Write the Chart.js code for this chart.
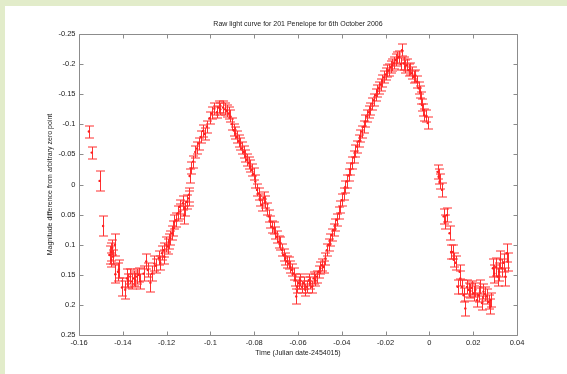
<!DOCTYPE html>
<html>
<head>
<meta charset="utf-8">
<script src="https://cdn.jsdelivr.net/npm/chart.js@4.4.1/dist/chart.umd.min.js"></script>
<style>
  html, body { margin: 0; padding: 0; }
  body { width: 567px; height: 374px; background: #e2ecca; position: relative; overflow: hidden; }
  #wrap { position: absolute; left: 5px; top: 6px; width: 562px; height: 368px; background: #ffffff; }
  canvas { display: block; }
</style>
</head>
<body>
<div id="wrap"><canvas id="c" width="562" height="368"></canvas></div>
<script>
// ---- data ----
const chartTitle = 'Raw light curve for 201 Penelope for 6th October 2006';
const xAxisLabel = 'Time (Julian date-2454015)';
const yAxisLabel = 'Magnitude difference from arbitrary zero point';

const xTickValues = [-0.16, -0.14, -0.12, -0.1, -0.08, -0.06, -0.04, -0.02, 0, 0.02, 0.04];
const xTickLabels = ['-0.16', '-0.14', '-0.12', '-0.1', '-0.08', '-0.06', '-0.04', '-0.02', '0', '0.02', '0.04'];
const yTickValues = [-0.25, -0.2, -0.15, -0.1, -0.05, 0, 0.05, 0.1, 0.15, 0.2, 0.25];
const yTickLabels = ['-0.25', '-0.2', '-0.15', '-0.1', '-0.05', '0', '0.05', '0.1', '0.15', '0.2', '0.25'];

// time (JD - 2454015)
const time = [
  -0.1555, -0.1542, -0.1506, -0.1490,
  -0.1460, -0.1455, -0.1452, -0.1448, -0.1444, -0.1436, -0.1434, -0.1422, -0.1418, -0.1404,
  -0.1389, -0.1381, -0.1375, -0.1366, -0.1358, -0.1351, -0.1343, -0.1336, -0.1328, -0.1320,
  -0.1305, -0.1293, -0.1286, -0.1274, -0.1267, -0.1256, -0.1248, -0.1236, -0.1229, -0.1221,
  -0.1213, -0.1210, -0.1201, -0.1195, -0.1190, -0.1183, -0.1175, -0.1171, -0.1165, -0.1156,
  -0.1150, -0.1141, -0.1137, -0.1125, -0.1119, -0.1116, -0.1107, -0.1100, -0.1098,
  -0.1095, -0.1087, -0.1079, -0.1069, -0.1061, -0.1054, -0.1043, -0.1034, -0.1026, -0.1016,
  -0.1004, -0.0993, -0.0982, -0.0970, -0.0963, -0.0955, -0.0942, -0.0932, -0.0924, -0.0916,
  -0.0909, -0.0901, -0.0894, -0.0886, -0.0879, -0.0871, -0.0863, -0.0856, -0.0848, -0.0840,
  -0.0833, -0.0825, -0.0818, -0.0810, -0.0803, -0.0795, -0.0787, -0.0780, -0.0772, -0.0764,
  -0.0757, -0.0749, -0.0742, -0.0734, -0.0726, -0.0719, -0.0711, -0.0704, -0.0696, -0.0689,
  -0.0681, -0.0673, -0.0666, -0.0658, -0.0650, -0.0643, -0.0635, -0.0627, -0.0620, -0.0612,
  -0.0608, -0.0605, -0.0597, -0.0590, -0.0582, -0.0574, -0.0567, -0.0559, -0.0551, -0.0544,
  -0.0536, -0.0529, -0.0521, -0.0513, -0.0506, -0.0498, -0.0490, -0.0483, -0.0475, -0.0468,
  -0.0460, -0.0452, -0.0445, -0.0437, -0.0430, -0.0422, -0.0414, -0.0407, -0.0399, -0.0392,
  -0.0384, -0.0376, -0.0368, -0.0361, -0.0353, -0.0345, -0.0338, -0.0330, -0.0322, -0.0315,
  -0.0307, -0.0299, -0.0292, -0.0284, -0.0276, -0.0269, -0.0261, -0.0253, -0.0246, -0.0238,
  -0.0230, -0.0223, -0.0215, -0.0207, -0.0200, -0.0192, -0.0184, -0.0177, -0.0169, -0.0161,
  -0.0154, -0.0146, -0.0138, -0.0131, -0.0125, -0.0118, -0.0110, -0.0102, -0.0095, -0.0087,
  -0.0080, -0.0072, -0.0064, -0.0057, -0.0049, -0.0042, -0.0038, -0.0034, -0.0027, -0.0023,
  -0.0014, -0.0008,
  0.0037, 0.0042, 0.0047, 0.0058, 0.0065, 0.0073, 0.0080, 0.0092, 0.0099, 0.0108,
  0.0111, 0.0120, 0.0129, 0.0138, 0.0141, 0.0149, 0.0156, 0.0164, 0.0172, 0.0179,
  0.0187, 0.0195, 0.0202, 0.0210, 0.0217, 0.0225, 0.0232, 0.0240, 0.0247, 0.0255,
  0.0263, 0.0270, 0.0278, 0.0281, 0.0290, 0.0296, 0.0305, 0.0311, 0.0318, 0.0324,
  0.0332, 0.0339, 0.0347, 0.0354, 0.0357
];

// magnitude difference
const mag = [
  -0.088, -0.053, -0.006, 0.069,
  0.117, 0.112, 0.125, 0.105, 0.120, 0.100, 0.149, 0.145, 0.141, 0.171,
  0.175, 0.156, 0.160, 0.153, 0.161, 0.156, 0.159, 0.153, 0.150, 0.161,
  0.148, 0.128, 0.142, 0.163, 0.148, 0.131, 0.135, 0.122, 0.130, 0.114,
  0.109, 0.120, 0.100, 0.103, 0.095, 0.089, 0.081, 0.073, 0.062, 0.059,
  0.048, 0.037, 0.045, 0.031, 0.051, 0.040, 0.029, 0.023, 0.017,
  -0.014, -0.027, -0.038, -0.054, -0.060, -0.068, -0.079, -0.089, -0.084, -0.096,
  -0.110, -0.118, -0.126, -0.120, -0.128, -0.125, -0.128, -0.125, -0.122, -0.118,
  -0.113, -0.100, -0.090, -0.085, -0.079, -0.072, -0.068, -0.060, -0.054, -0.047,
  -0.041, -0.036, -0.030, -0.024, -0.017, -0.005, 0.009, 0.015, 0.026, 0.034,
  0.022, 0.029, 0.040, 0.053, 0.062, 0.070, 0.073, 0.081, 0.087, 0.095,
  0.098, 0.109, 0.117, 0.123, 0.128, 0.131, 0.137, 0.142, 0.148, 0.159,
  0.186, 0.170, 0.164, 0.159, 0.170, 0.164, 0.175, 0.170, 0.159, 0.164,
  0.170, 0.156, 0.159, 0.153, 0.145, 0.139, 0.134, 0.137, 0.123, 0.109,
  0.100, 0.092, 0.084, 0.076, 0.067, 0.059, 0.048, 0.037, 0.026, 0.015,
  0.004, -0.005, -0.015, -0.025, -0.035, -0.045, -0.055, -0.063, -0.072, -0.080,
  -0.088, -0.096, -0.105, -0.113, -0.120, -0.126, -0.134, -0.140, -0.148, -0.155,
  -0.160, -0.166, -0.172, -0.178, -0.183, -0.188, -0.190, -0.195, -0.198, -0.202,
  -0.207, -0.210, -0.212, -0.200, -0.223, -0.201, -0.196, -0.198, -0.190, -0.192,
  -0.185, -0.179, -0.181, -0.171, -0.160, -0.154, -0.143, -0.132, -0.124, -0.115,
  -0.113, -0.102,
  -0.021, -0.013, -0.005, 0.009, 0.053, 0.062, 0.051, 0.081, 0.112, 0.112,
  0.125, 0.130, 0.170, 0.145, 0.156, 0.170, 0.184, 0.206, 0.170, 0.175,
  0.177, 0.172, 0.181, 0.175, 0.192, 0.184, 0.170, 0.197, 0.178, 0.182,
  0.186, 0.195, 0.203, 0.192, 0.139, 0.148, 0.137, 0.153, 0.145, 0.125,
  0.139, 0.130, 0.153, 0.114, 0.128
];

// error (half-length of each error bar)
const err = [
  0.010, 0.010, 0.017, 0.017,
  0.015, 0.015, 0.012, 0.012, 0.012, 0.018, 0.015, 0.015, 0.015, 0.015,
  0.015, 0.015, 0.012, 0.012, 0.012, 0.012, 0.012, 0.012, 0.012, 0.012,
  0.012, 0.012, 0.012, 0.015, 0.012, 0.012, 0.012, 0.012, 0.012, 0.012,
  0.012, 0.012, 0.012, 0.012, 0.012, 0.012, 0.012, 0.012, 0.012, 0.012,
  0.012, 0.012, 0.012, 0.012, 0.015, 0.012, 0.012, 0.012, 0.012,
  0.012, 0.010, 0.010, 0.010, 0.010, 0.010, 0.010, 0.010, 0.010, 0.010,
  0.010, 0.010, 0.010, 0.010, 0.010, 0.010, 0.010, 0.010, 0.010, 0.010,
  0.010, 0.010, 0.010, 0.010, 0.010, 0.010, 0.010, 0.010, 0.010, 0.010,
  0.010, 0.010, 0.010, 0.010, 0.010, 0.010, 0.010, 0.010, 0.010, 0.010,
  0.010, 0.010, 0.010, 0.010, 0.010, 0.010, 0.010, 0.010, 0.010, 0.010,
  0.010, 0.010, 0.010, 0.010, 0.010, 0.010, 0.010, 0.010, 0.010, 0.010,
  0.012, 0.010, 0.010, 0.010, 0.010, 0.010, 0.010, 0.010, 0.010, 0.010,
  0.010, 0.010, 0.010, 0.010, 0.010, 0.010, 0.010, 0.010, 0.010, 0.010,
  0.010, 0.010, 0.010, 0.010, 0.010, 0.010, 0.010, 0.010, 0.010, 0.010,
  0.010, 0.010, 0.010, 0.010, 0.010, 0.010, 0.010, 0.010, 0.010, 0.010,
  0.010, 0.010, 0.010, 0.010, 0.010, 0.010, 0.010, 0.010, 0.010, 0.010,
  0.010, 0.010, 0.010, 0.010, 0.010, 0.010, 0.010, 0.010, 0.010, 0.010,
  0.010, 0.010, 0.010, 0.010, 0.010, 0.010, 0.010, 0.010, 0.010, 0.010,
  0.010, 0.010, 0.010, 0.010, 0.010, 0.010, 0.010, 0.010, 0.010, 0.010,
  0.010, 0.010,
  0.012, 0.012, 0.012, 0.012, 0.012, 0.012, 0.012, 0.012, 0.012, 0.012,
  0.012, 0.012, 0.012, 0.012, 0.012, 0.012, 0.012, 0.012, 0.012, 0.012,
  0.012, 0.012, 0.012, 0.012, 0.012, 0.012, 0.012, 0.012, 0.012, 0.012,
  0.012, 0.012, 0.012, 0.012, 0.015, 0.015, 0.015, 0.015, 0.015, 0.015,
  0.015, 0.015, 0.015, 0.015, 0.015
];

// ---- styles ----
const RED = '#ff2020';
const BAR_RED = '#ff3030';
const FRAME = '#8c8c8c';
const FONT = "'Liberation Sans', Arial, Helvetica, sans-serif";

// error bars drawn through the chart's scales (soft, anti-aliased strokes like the blurred original)
const errorBars = {
  id: 'errorBars',
  beforeDatasetsDraw(chart) {
    const { ctx, scales: { x, y } } = chart;
    ctx.save();
    ctx.strokeStyle = BAR_RED;
    ctx.lineWidth = 1;
    const cap = 4.5;
    for (let i = 0; i < time.length; i++) {
      const px = x.getPixelForValue(time[i]);
      const y1 = y.getPixelForValue(mag[i] - err[i]);
      const y2 = y.getPixelForValue(mag[i] + err[i]);
      const xx = Math.round(px) + 0.5;
      const a = Math.round(y1), b = Math.round(y2);
      ctx.beginPath();
      ctx.moveTo(xx, a); ctx.lineTo(xx, b);
      ctx.moveTo(xx - cap, a); ctx.lineTo(xx + cap, a);
      ctx.moveTo(xx - cap, b); ctx.lineTo(xx + cap, b);
      ctx.stroke();
    }
    ctx.restore();
  }
};

// MATLAB-style box with inward ticks on all four sides
const axisBox = {
  id: 'axisBox',
  afterDraw(chart) {
    const { ctx, chartArea: { left, right, top, bottom }, scales: { x, y } } = chart;
    const L = Math.round(left) + 0.5, R = Math.round(right) + 0.5;
    const T = Math.round(top) + 0.5, B = Math.round(bottom) + 0.5;
    const tl = 4;
    ctx.save();
    ctx.strokeStyle = FRAME;
    ctx.lineWidth = 1;
    ctx.beginPath();
    ctx.rect(L, T, R - L, B - T);
    x.ticks.forEach(t => {
      const px = Math.round(x.getPixelForValue(t.value)) + 0.5;
      ctx.moveTo(px, B); ctx.lineTo(px, B - tl);
      ctx.moveTo(px, T); ctx.lineTo(px, T + tl);
    });
    y.ticks.forEach(t => {
      const py = Math.round(y.getPixelForValue(t.value)) + 0.5;
      ctx.moveTo(L, py); ctx.lineTo(L + tl, py);
      ctx.moveTo(R, py); ctx.lineTo(R - tl, py);
    });
    ctx.stroke();
    ctx.restore();
  }
};

new Chart(document.getElementById('c'), {
  type: 'scatter',
  data: {
    datasets: [{
      data: time.map((t, i) => ({ x: t, y: mag[i] })),
      backgroundColor: RED,
      borderColor: RED,
      pointRadius: 1.2,
      pointBorderWidth: 0,
      pointHoverRadius: 1.2
    }]
  },
  options: {
    responsive: false,
    animation: false,
    events: [],
    layout: { padding: { left: 0, right: 50, top: 0, bottom: 0 } },
    plugins: {
      legend: { display: false },
      tooltip: { enabled: false },
      title: {
        display: true,
        text: chartTitle,
        fullSize: false,
        color: '#222',
        font: { family: FONT, size: 7, weight: 'normal', lineHeight: 1.2 },
        padding: { top: 13.6, bottom: 6 }
      }
    },
    scales: {
      x: {
        type: 'linear',
        min: -0.16, max: 0.04,
        afterBuildTicks: s => { s.ticks = xTickValues.map(v => ({ value: v })); },
        afterFit: s => { s.height = 39; },
        grid: { display: false, drawTicks: false },
        border: { display: false },
        ticks: {
          padding: 3,
          color: '#222',
          font: { family: FONT, size: 7.5 },
          maxRotation: 0,
          autoSkip: false,
          callback: (v, i) => xTickLabels[i]
        },
        title: {
          display: true,
          text: xAxisLabel,
          color: '#222',
          font: { family: FONT, size: 7, lineHeight: 1.2 },
          padding: { top: 0, bottom: 16.5 }
        }
      },
      y: {
        type: 'linear',
        reverse: true,
        min: -0.25, max: 0.25,
        afterBuildTicks: s => { s.ticks = yTickValues.map(v => ({ value: v })); },
        afterFit: s => { s.width = 74; },
        grid: { display: false, drawTicks: false },
        border: { display: false },
        ticks: {
          padding: 3.5,
          color: '#222',
          font: { family: FONT, size: 7.5 },
          autoSkip: false,
          callback: (v, i) => yTickLabels[i]
        },
        title: {
          display: true,
          text: yAxisLabel,
          color: '#222',
          font: { family: FONT, size: 7, lineHeight: 1.2 },
          padding: { top: 41, bottom: 0 }
        }
      }
    }
  },
  plugins: [errorBars, axisBox]
});
</script>
</body>
</html>
